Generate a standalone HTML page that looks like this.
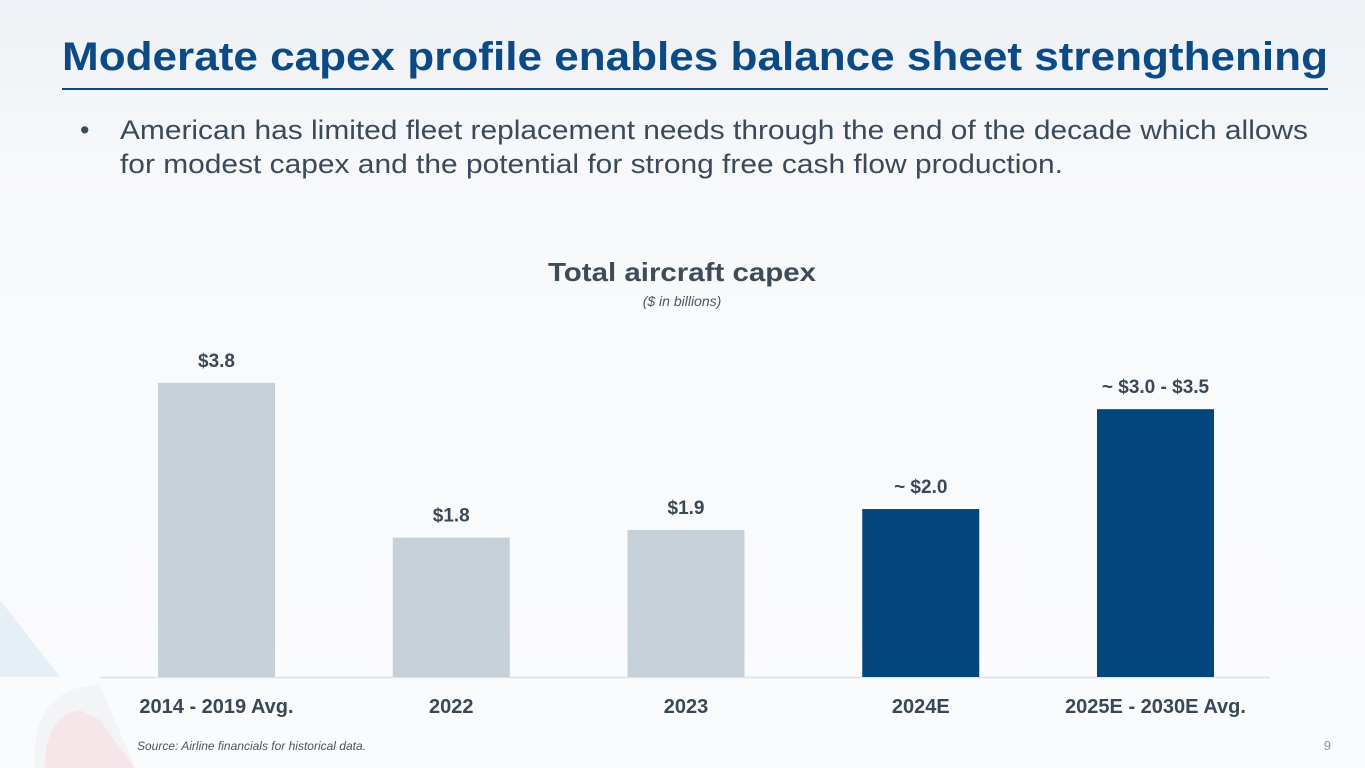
<!DOCTYPE html>
<html><head><meta charset="utf-8"><style>
html,body{margin:0;padding:0;width:1365px;height:768px;overflow:hidden;background:#f7f8fa}
svg{display:block;font-family:"Liberation Sans",sans-serif}
</style></head><body>
<svg width="1365" height="768" viewBox="0 0 1365 768">
<defs>
<linearGradient id="bg" x1="0" y1="0" x2="0" y2="1"><stop offset="0" stop-color="#eef1f5"/><stop offset="0.25" stop-color="#f8f9fb"/><stop offset="1" stop-color="#fafbfc"/></linearGradient>
</defs>
<rect width="1365" height="768" fill="url(#bg)"/>
<polygon points="0,600 60,677 0,677" fill="#e6eff6"/>
<path d="M35,768 Q30,690 95,685 L100,685 L135,768 Z" fill="#f3f4f6"/>
<path d="M45,768 Q45,715 80,710 L100,720 L135,768 Z" fill="#f7e6e9"/>
<text x="62" y="70" font-size="40" font-weight="bold" fill="#0b4a85" textLength="1266" lengthAdjust="spacingAndGlyphs">Moderate capex profile enables balance sheet strengthening</text>
<rect x="62" y="88" width="1266" height="2" fill="#0b4a85"/>
<text x="80" y="139" font-size="27" fill="#3b4a5a">•</text>
<text x="120" y="139" font-size="27" fill="#3b4a5a" textLength="1188" lengthAdjust="spacingAndGlyphs">American has limited fleet replacement needs through the end of the decade which allows</text>
<text x="120" y="173" font-size="27" fill="#3b4a5a" textLength="943" lengthAdjust="spacingAndGlyphs">for modest capex and the potential for strong free cash flow production.</text>
<text x="682" y="281" font-size="26" font-weight="bold" fill="#3f4b57" text-anchor="middle" textLength="268" lengthAdjust="spacingAndGlyphs">Total aircraft capex</text>
<text x="682" y="306" font-size="14" font-style="italic" fill="#4a5563" text-anchor="middle">($ in billions)</text>
<g id="chart"></g>
<text x="137" y="750" font-size="12" font-style="italic" fill="#4a5563">Source: Airline financials for historical data.</text>
<text x="1331" y="750" font-size="13" fill="#8a939e" text-anchor="end">9</text>
</svg>
<script>
const categories = ["2014 - 2019 Avg.", "2022", "2023", "2024E", "2025E - 2030E Avg."];
const values = [3.8, 1.8, 1.9, 2.17, 3.46];
const valueLabels = ["$3.8", "$1.8", "$1.9", "~ $2.0", "~ $3.0 - $3.5"];
const forecast = [false, false, false, true, true];
const NS = "http://www.w3.org/2000/svg";
const g = document.getElementById("chart");
const baseY = 677, pxPerUnit = 77.4, x0 = 216.5, step = 234.75, barW = 117;
function yScale(v){ return baseY - v * pxPerUnit; }
function xScale(i){ return x0 + i * step; }
function mk(tag, attrs){ const e = document.createElementNS(NS, tag); for (const k in attrs) e.setAttribute(k, attrs[k]); g.appendChild(e); return e; }
const axis = mk("line", {x1: 100, x2: 1270, y1: baseY + 0.5, y2: baseY + 0.5, stroke: "#dde2e8", "stroke-width": 1.5});


categories.forEach((c, i) => {
  const cx = xScale(i), top = yScale(values[i]);
  const r = mk("rect", {x: cx - barW / 2, y: top, width: barW, height: baseY - top, fill: forecast[i] ? "#03467f" : "#c5d0d8"});
  
  
  const vl = mk("text", {x: cx, y: top - 16, "font-size": 19, "font-weight": "bold", fill: "#3a4756", "text-anchor": "middle"});
  vl.textContent = valueLabels[i];
  
  
  const cl = mk("text", {x: cx, y: 713, "font-size": 20, "font-weight": "bold", fill: "#3a4756", "text-anchor": "middle"});
  cl.textContent = c;
  
  
});
</script>
</body></html>
